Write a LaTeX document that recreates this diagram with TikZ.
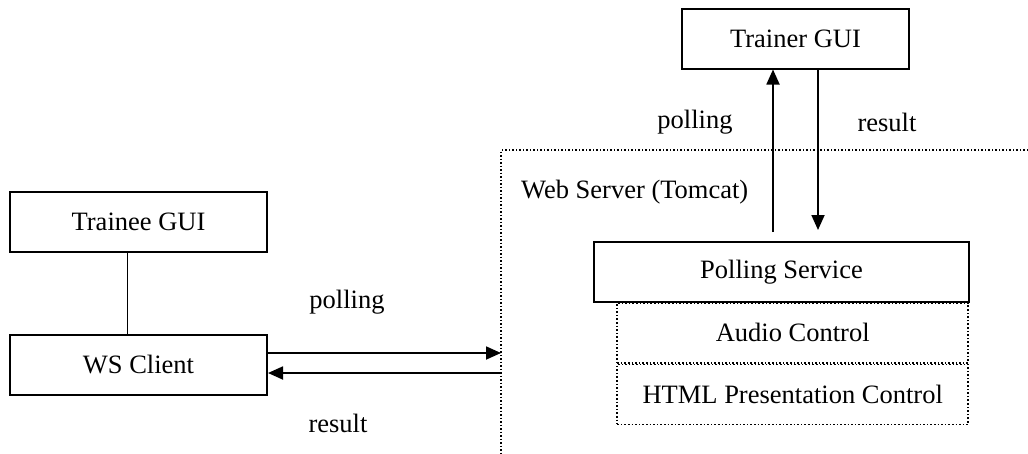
\documentclass[tikz,border=0pt]{standalone}
\usepackage{fontspec}
\setmainfont{Liberation Serif}
\usetikzlibrary{positioning,arrows.meta}
\begin{document}
\begin{tikzpicture}[x=1pt,y=-1pt,
  box/.style={draw, rectangle, line width=2pt, minimum height=60pt, inner sep=0pt, font=\fontsize{26.5}{30}\selectfont},
  subbox/.style={box, line width=1.6pt, dotted},
  lbl/.style={inner sep=0pt, font=\fontsize{26.5}{30}\selectfont},
  arr/.style={-{Triangle[length=15pt,width=13pt]}, line width=1.8pt}]
  \useasboundingbox (0,0) rectangle (1028,453);
  % web server area
  \draw[dotted, line width=1.5pt] (1028,150) -- (501,150) -- (501,453);
  \node[lbl, anchor=west] (websrv) at (521,192) {Web Server (Tomcat)};
  \node[box, minimum width=227pt] (trainer) at (795.5,38.5) {Trainer GUI};
  \node[subbox, minimum width=351pt, anchor=north east] (audio) at (969,302) {Audio Control};
  \node[subbox, minimum width=351pt, below=0pt of audio] (html) {HTML Presentation Control};
  \node[box, minimum width=375pt] (pollsvc) at (781.5,272) {Polling Service};
  \node[box, minimum width=257pt] (trainee) at (138.5,221.5) {Trainee GUI};
  \node[box, minimum width=257pt, below=81pt of trainee] (wsclient) {WS Client};
  \coordinate (up) at (773,232);
  \coordinate (dn) at (818,230);
  \coordinate (srvin) at (501,353);
  \coordinate (srvout) at (501,373);
  \draw[arr] (up) -- (up |- trainer.south);
  \draw[arr] (dn |- trainer.south) -- (dn);
  \draw[line width=1.8pt] ([xshift=-11pt]trainee.south) -- ([xshift=-11pt]wsclient.north);
  \draw[arr] (wsclient.east |- srvin) -- (srvin);
  \draw[arr] (srvout) -- (wsclient.east |- srvout);
  \node[lbl] (pollup) at (695,122) {polling};
  \node[lbl] (resup) at (887,122) {result};
  \node[lbl] (pollws) at (347,302) {polling};
  \node[lbl] (resws) at (338,423) {result};
\end{tikzpicture}
\end{document}
